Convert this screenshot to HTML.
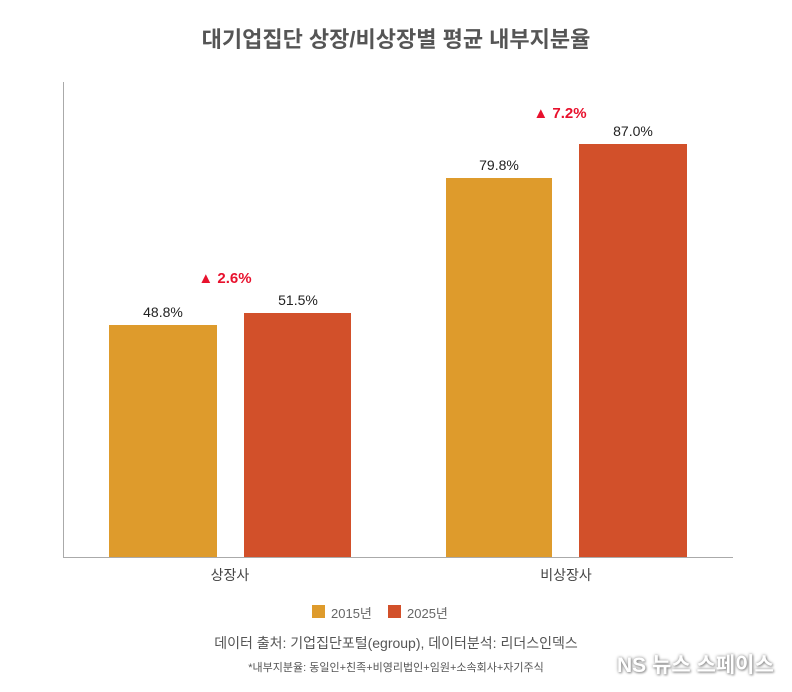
<!DOCTYPE html>
<html><head><meta charset="utf-8"><style>
body{margin:0;width:792px;height:692px;background:#fff;font-family:"Liberation Sans","Noto Sans CJK KR",sans-serif;position:relative;overflow:hidden}
.a{position:absolute}
.t{left:0;width:792px;text-align:center;top:22px;font-size:22px;font-weight:bold;color:#555}
.bar{position:absolute}
.o{background:#DE9B2C}.r{background:#D2502A}
.lab{position:absolute;font-size:14px;color:#222;text-align:center;width:108px}
.red{position:absolute;font-size:15px;font-weight:bold;color:#e8112d;text-align:center;width:120px}
.cat{position:absolute;font-size:14px;color:#444;text-align:center;width:200px;top:565px}
</style></head><body>
<div class="a t">대기업집단 상장/비상장별 평균 내부지분율</div>
<div class="a" style="left:63px;top:82px;width:1px;height:476px;background:#aaa"></div>
<div class="a" style="left:63px;top:557px;width:670px;height:1px;background:#aaa"></div>
<div class="bar o" style="left:109px;top:325px;width:108px;height:232px"></div>
<div class="bar r" style="left:244px;top:313px;width:107px;height:244px"></div>
<div class="bar o" style="left:446px;top:178px;width:106px;height:379px"></div>
<div class="bar r" style="left:579px;top:144px;width:108px;height:413px"></div>
<div class="lab" style="left:109px;top:304px">48.8%</div>
<div class="lab" style="left:244px;top:292px">51.5%</div>
<div class="lab" style="left:445px;top:157px">79.8%</div>
<div class="lab" style="left:579px;top:123px">87.0%</div>
<div class="red" style="left:165px;top:270px">▲ 2.6%</div>
<div class="red" style="left:500px;top:105px">▲ 7.2%</div>
<div class="cat" style="left:130px">상장사</div>
<div class="cat" style="left:466px">비상장사</div>
<div class="a" style="left:312px;top:605px;width:13px;height:13px;background:#DE9B2C"></div>
<div class="a" style="left:331px;top:603px;font-size:13px;color:#666">2015년</div>
<div class="a" style="left:388px;top:605px;width:13px;height:13px;background:#D2502A"></div>
<div class="a" style="left:407px;top:603px;font-size:13px;color:#666">2025년</div>
<div class="a" style="left:0;width:792px;text-align:center;top:633px;font-size:14px;color:#555">데이터 출처: 기업집단포털(egroup), 데이터분석: 리더스인덱스</div>
<div class="a" style="left:0;width:792px;text-align:center;top:659px;font-size:11px;color:#555">*내부지분율: 동일인+친족+비영리법인+임원+소속회사+자기주식</div>
<div class="a" style="left:617px;top:649px;font-size:21px;font-weight:bold;color:#fff;text-shadow:0 0 3px #888,1px 1px 2px #999">NS 뉴스 스페이스</div>
</body></html>
